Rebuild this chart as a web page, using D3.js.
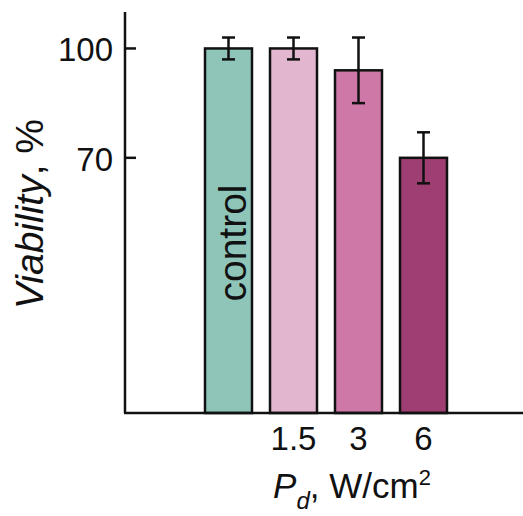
<!DOCTYPE html>
<html>
<head>
<meta charset="utf-8">
<script src="https://cdn.jsdelivr.net/npm/d3@7"></script>
<style>
  body { margin: 0; background: #fff; }
  svg { display: block; font-family: "Liberation Sans", Arial, sans-serif; }
</style>
</head>
<body>
<div id="chart"></div>
<script>
// --- Data ---
const categories = ['control', '1.5', '3', '6'];
const tickLabels = ['', '1.5', '3', '6'];
const viability = [100, 100, 94, 70];
const errors = [3, 3, 9, 7];
const colors = ['#8fc4b9', '#e3b6cf', '#cd78a6', '#9e3e72'];
const yTicks = [70, 100];

// --- Setup ---
const width = 523, height = 516;
const svg = d3.select('#chart').append('svg').attr('width', width).attr('height', height);

const x = d3.scaleBand().domain(categories).range([205, 447]).paddingInner(0.277).paddingOuter(0);
const y = d3.scaleLinear().domain([0, 110]).range([413, 12]);

// bars
svg.selectAll('.bar').data(categories).join('rect')
    .attr('class', 'bar')
    .attr('x', d => x(d))
    .attr('width', x.bandwidth())
    .attr('y', (d, i) => y(viability[i]))
    .attr('height', (d, i) => y(0) - y(viability[i]))
    .attr('fill', (d, i) => colors[i])
    .attr('stroke', '#111')
    .attr('stroke-width', 2.5);

// error bars
const capW = 13;
const mid = d => x(d) + x.bandwidth() / 2;
const eb = svg.selectAll('.err').data(categories).join('g').attr('class', 'err')
    .attr('stroke', '#111').attr('stroke-width', 2.5);
eb.append('line')
    .attr('x1', mid).attr('x2', mid)
    .attr('y1', (d, i) => y(viability[i] + errors[i])).attr('y2', (d, i) => y(viability[i] - errors[i]));
eb.append('line')
    .attr('x1', d => mid(d) - capW / 2).attr('x2', d => mid(d) + capW / 2)
    .attr('y1', (d, i) => y(viability[i] + errors[i])).attr('y2', (d, i) => y(viability[i] + errors[i]));
eb.append('line')
    .attr('x1', d => mid(d) - capW / 2).attr('x2', d => mid(d) + capW / 2)
    .attr('y1', (d, i) => y(viability[i] - errors[i])).attr('y2', (d, i) => y(viability[i] - errors[i]));

// "control" label inside the first bar
svg.append('text')
    .attr('transform', `translate(${mid('control') + 18},243) rotate(-90)`)
    .attr('text-anchor', 'middle')
    .attr('font-size', 39)
    .attr('fill', '#111')
    .text('control');

// y axis
svg.append('line').attr('x1', 125).attr('x2', 125).attr('y1', y(110)).attr('y2', y(0))
    .attr('stroke', '#111').attr('stroke-width', 2.5);
svg.selectAll('.ytick').data(yTicks).join('line')
    .attr('x1', 125).attr('x2', 136)
    .attr('y1', d => y(d)).attr('y2', d => y(d))
    .attr('stroke', '#111').attr('stroke-width', 2.5);
svg.selectAll('.ylab').data(yTicks).join('text')
    .attr('x', 113).attr('y', d => y(d) + 13)
    .attr('text-anchor', 'end')
    .attr('font-size', 33)
    .attr('fill', '#111')
    .text(d => d);

// x axis
svg.append('line').attr('x1', 124).attr('x2', width).attr('y1', y(0)).attr('y2', y(0))
    .attr('stroke', '#111').attr('stroke-width', 2.5);
svg.selectAll('.xlab').data(categories).join('text')
    .attr('x', mid)
    .attr('y', 450)
    .attr('text-anchor', 'middle')
    .attr('font-size', 33)
    .attr('fill', '#111')
    .text((d, i) => tickLabels[i]);

// axis titles
const yt = svg.append('text')
    .attr('transform', 'translate(43,214) rotate(-90)')
    .attr('text-anchor', 'middle')
    .attr('font-size', 39)
    .attr('fill', '#111');
yt.append('tspan').attr('font-style', 'italic').text('Viability');
yt.append('tspan').text(', %');

const xt = svg.append('text')
    .attr('x', 352).attr('y', 498)
    .attr('text-anchor', 'middle')
    .attr('font-size', 35)
    .attr('fill', '#111');
xt.append('tspan').attr('font-style', 'italic').text('P');
xt.append('tspan').attr('font-style', 'italic').attr('font-size', 24).attr('dy', 11).text('d');
xt.append('tspan').attr('dy', -11).text(', W/cm');
xt.append('tspan').attr('font-size', 22).attr('dy', -13).text('2');
</script>
</body>
</html>
